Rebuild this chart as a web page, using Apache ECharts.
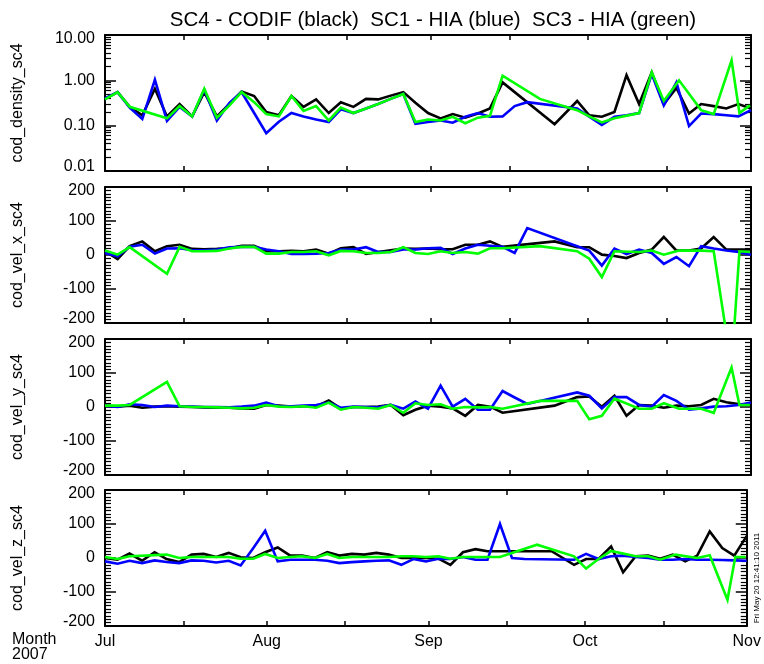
<!DOCTYPE html>
<html>
<head>
<meta charset="utf-8">
<script src="https://cdn.jsdelivr.net/npm/echarts@6/dist/echarts.min.js"></script>
<style>
  html, body { margin: 0; padding: 0; background: #ffffff; }
  #chart { width: 764px; height: 664px; }
</style>
</head>
<body>
<div id="chart"></div>
<script>
// ---- Axis text ----
const titleText = 'SC4 - CODIF (black)  SC1 - HIA (blue)  SC3 - HIA (green)';
const monthLabels = ['Jul', 'Aug', 'Sep', 'Oct', 'Nov'];
const monthStarts = [0, 31, 62, 92, 123];          // days since 2007-07-01
const halfMonthTicks = [0, 15, 31, 46, 62, 77, 92, 107, 123];
const panelNames = ['cod_density_sc4', 'cod_vel_x_sc4', 'cod_vel_y_sc4', 'cod_vel_z_sc4'];
const densityLabels = [0.01, 0.1, 1, 10];
const densityMinorTicks = [0.02, 0.03, 0.04, 0.05, 0.06, 0.07, 0.08, 0.09,
                           0.2, 0.3, 0.4, 0.5, 0.6, 0.7, 0.8, 0.9,
                           2, 3, 4, 5, 6, 7, 8, 9];

// ---- SC4 CODIF (black) ----
const codifDays = [0.0, 2.4, 4.7, 7.1, 9.5, 11.8, 14.2, 16.6, 18.9, 21.3, 23.7, 26.0, 28.4, 30.7, 33.1, 35.5,
  37.8, 40.2, 42.6, 44.9, 47.3, 49.7, 52.0, 54.4, 56.8, 59.1, 61.5, 63.9, 66.2, 68.6, 71.0, 73.3, 75.7,
  85.6, 89.9, 92.2, 94.6, 97.0, 99.3, 101.7, 104.1, 106.4, 108.8, 111.2, 113.5, 115.9, 118.3, 120.6, 123.0];
const codifDensity = [0.39, 0.55, 0.26, 0.17, 0.65, 0.16, 0.30, 0.16, 0.55, 0.16, 0.30, 0.57, 0.45, 0.20, 0.17, 0.45,
  0.26, 0.38, 0.19, 0.33, 0.26, 0.39, 0.38, 0.46, 0.55, 0.32, 0.19, 0.145, 0.18, 0.15, 0.185, 0.24, 0.90,
  0.108, 0.35, 0.17, 0.157, 0.20, 1.30, 0.30, 1.5, 0.30, 0.68, 0.185, 0.30, 0.27, 0.24, 0.30, 0.24];
const codifVx = [11, -12, 26, 40, 11, 26, 30, 18, 17, 18, 20, 27, 27, 11, 11, 12,
  11, 16, 4, 20, 23, 3, 9, 14, 19, 18, 19, 17, 17, 30, 30, 40, 24,
  40, 23, 23, 1, -3, -9, 6, 16, 53, 13, 13, 19, 53, 16, 16, 16];
const codifVy = [4, 1, 4, -2, 1, 2, 1, 0, -1, -2, -2, -4, -5, 6, 4, 1,
  2, 2, 19, -5, 0, 0, 1, 6, -24, -8, 4, 1, -4, -26, 6, 1, -17,
  4, 29, 31, 1, 33, -26, 6, 4, -2, 4, 2, 6, 24, 14, 9, 6];
const codifVz = [0, -5, 13, -8, 17, -3, -12, 10, 12, 3, 15, 2, 0, 17, 31, 7,
  7, 0, 17, 7, 12, 10, 15, 10, 0, 0, 0, -2, -20, 17, 26, 20, 20,
  20, -20, -3, -3, 34, -42, 5, 7, -2, 10, -10, 7, 78, 29, 7, 65];

// ---- SC1 HIA (blue) ----
const hia1Days = [0.0, 2.4, 4.7, 7.1, 9.5, 11.8, 14.2, 16.6, 18.9, 21.3, 23.7, 26.0, 28.4, 30.7, 33.1, 35.5,
  37.8, 40.2, 42.6, 44.9, 47.3, 49.7, 52.0, 54.4, 56.8, 59.1, 61.5, 63.9, 66.2, 68.6, 71.0, 73.3, 75.7,
  78.0, 80.4, 89.9, 92.2, 94.6, 97.0, 99.3, 101.7, 104.1, 106.4, 108.8, 111.2, 113.5, 115.9, 118.3, 120.6, 123.0];
const hia1Density = [0.40, 0.55, 0.25, 0.14, 1.03, 0.127, 0.26, 0.16, 0.62, 0.13, 0.32, 0.55, 0.19, 0.068, 0.122, 0.19,
  0.16, 0.137, 0.12, 0.23, 0.19, 0.24, 0.30, 0.39, 0.50, 0.11, 0.12, 0.13, 0.116, 0.157, 0.19, 0.157, 0.16,
  0.27, 0.33, 0.24, 0.157, 0.104, 0.157, 0.17, 0.19, 1.37, 0.28, 0.9, 0.098, 0.185, 0.18, 0.17, 0.16, 0.22];
const hia1Vx = [6, -4, 24, 30, 4, 19, 20, 14, 14, 16, 23, 24, 24, 16, 11, 3,
  3, 4, 6, 16, 16, 23, 9, 9, 16, 16, 20, 21, 3, 19, 30, 27, 24,
  6, 79, 26, 13, -31, 19, 3, 16, 6, -26, -6, -33, 26, 19, 13, 9, 1];
const hia1Vy = [4, 0, 8, 6, 0, 4, 2, 1, 0, 0, -1, 1, 4, 13, 2, 2,
  4, 6, 13, -2, 1, 0, -1, 6, -5, 16, -5, 63, 1, 24, -8, -8, 47,
  28, 9, 43, 33, -4, 29, 29, 6, 1, 35, 18, -8, -4, 1, 2, 6, 13];
const hia1Vz = [-10, -17, -8, -15, -7, -12, -15, -7, -8, -13, -8, -22, 29, 80, -10, -5,
  -5, -5, -8, -15, -12, -10, -8, -7, -20, -3, -10, -2, -3, 3, -5, -5, 100,
  0, -3, -5, 12, -3, 5, 7, 3, 0, -5, -5, -3, -5, -5, -6, -7, -8];

// ---- SC3 HIA (green) ----
const hia3Days = [0.0, 2.4, 4.7, 11.8, 14.2, 16.6, 18.9, 21.3, 23.7, 26.0, 28.4, 30.7, 33.1, 35.5,
  37.8, 40.2, 42.6, 44.9, 47.3, 49.7, 52.0, 54.4, 56.8, 59.1, 61.5, 63.9, 66.2, 68.6, 71.0, 73.3, 75.7,
  82.8, 89.9, 92.2, 94.6, 97.0, 101.7, 104.1, 106.4, 109.3, 113.5, 115.9, 119.3, 120.8, 122.8];
const hia3Density = [0.38, 0.55, 0.26, 0.145, 0.27, 0.16, 0.65, 0.15, 0.28, 0.55, 0.33, 0.18, 0.16, 0.45,
  0.21, 0.27, 0.13, 0.25, 0.19, 0.24, 0.30, 0.39, 0.50, 0.12, 0.137, 0.13, 0.157, 0.113, 0.15, 0.165, 1.27,
  0.39, 0.22, 0.16, 0.118, 0.145, 0.19, 1.5, 0.35, 1.0, 0.22, 0.18, 2.77, 0.19, 0.28];
const hia3Vx = [13, 1, 23, -55, 24, 11, 11, 12, 19, 24, 24, 4, 4, 9,
  9, 11, -1, 12, 11, 6, 6, 9, 23, 6, 3, 11, 6, 9, 4, 20, 20,
  26, 11, -11, -65, 11, 9, 13, 1, 13, 13, 11, -330, 11, 9];
const hia3Vy = [4, 4, 6, 74, 2, 0, 0, -1, -2, -4, -2, 6, 1, 0,
  2, -2, 13, -8, 0, -2, -5, 6, -17, 11, 6, 8, -5, 0, -1, 0, -5,
  18, 18, -36, -26, 25, -5, -5, 11, -5, -5, -17, 116, 6, 6];
const hia3Vz = [3, -3, 5, 10, 0, 3, 3, 3, 3, -2, -2, 12, 0, 3,
  5, 0, 12, 0, 3, 3, 3, 3, 5, 5, 3, 5, -2, 3, 3, 3, 3,
  39, 5, -31, -3, 21, 5, 5, -5, 10, 0, 8, -123, 3, 3];

// ---- Layout ----
const FONT = 'Liberation Sans, Arial, Helvetica, sans-serif';
const plotLeft = 105, plotRight = 13, panelHeight = 136;
const panelTops = [35, 187, 339, 490];

function pairs(days, vals) {
  return days.map((d, i) => [d, vals[i]]);
}

const grids = panelTops.map(t => ({ left: plotLeft, right: plotRight, top: t, height: panelHeight }));

const xAxes = [];
panelTops.forEach((t, p) => {
  const base = {
    gridIndex: p, type: 'value', min: 0, max: 123,
    axisLine: { show: true, onZero: false, lineStyle: { color: '#000', width: 2 } },
    axisTick: { show: true, inside: true, length: 5, customValues: halfMonthTicks, lineStyle: { color: '#000', width: 1.5 } },
    splitLine: { show: false }
  };
  xAxes.push(Object.assign({}, base, {
    position: 'bottom',
    axisLabel: {
      show: p === 3, customValues: monthStarts, margin: 8,
      color: '#000', fontFamily: FONT, fontSize: 16,
      formatter: v => monthLabels[monthStarts.indexOf(Math.round(v))]
    }
  }));
  xAxes.push(Object.assign({}, base, { position: 'top', axisLabel: { show: false } }));
});

// End labels sit half a line inside the frame; the short line box keeps that offset small
const tickLabelStyle = {
  show: true, margin: 10, color: '#000', fontFamily: FONT, fontSize: 16, lineHeight: 8,
  verticalAlignMinLabel: 'bottom', verticalAlignMaxLabel: 'top'
};
const nameStyle = { color: '#000', fontFamily: FONT, fontSize: 16 };

const yAxes = [];
const leftIndex = [];
// Density panel: log scale, labelled decades plus 2..9 minor ticks, both sides
leftIndex.push(yAxes.length);
yAxes.push({
  gridIndex: 0, type: 'log', min: 0.01, max: 10, position: 'left',
  name: panelNames[0], nameLocation: 'middle', nameGap: 79, nameRotate: 90,
  nameTextStyle: nameStyle,
  axisLine: { show: true, lineStyle: { color: '#000', width: 2 } },
  axisTick: { show: true, inside: true, length: 11, customValues: densityLabels, lineStyle: { color: '#000', width: 1.5 } },
  axisLabel: Object.assign({}, tickLabelStyle, { customValues: densityLabels, formatter: v => Number(v).toFixed(2) }),
  splitLine: { show: false }
});
yAxes.push({
  gridIndex: 0, type: 'log', min: 0.01, max: 10, position: 'left',
  axisLine: { show: false },
  axisTick: { show: true, inside: true, length: 6, customValues: densityMinorTicks, lineStyle: { color: '#000', width: 1.2 } },
  axisLabel: { show: false }, splitLine: { show: false }
});
yAxes.push({
  gridIndex: 0, type: 'log', min: 0.01, max: 10, position: 'right',
  axisLine: { show: true, lineStyle: { color: '#000', width: 2 } },
  axisTick: { show: true, inside: true, length: 11, customValues: densityLabels, lineStyle: { color: '#000', width: 1.5 } },
  axisLabel: { show: false }, splitLine: { show: false }
});
yAxes.push({
  gridIndex: 0, type: 'log', min: 0.01, max: 10, position: 'right',
  axisLine: { show: false },
  axisTick: { show: true, inside: true, length: 6, customValues: densityMinorTicks, lineStyle: { color: '#000', width: 1.2 } },
  axisLabel: { show: false }, splitLine: { show: false }
});
// Velocity panels: -200..200, major every 100, minor every 10
for (let p = 1; p < 4; p++) {
  const common = {
    gridIndex: p, type: 'value', min: -200, max: 200, interval: 100,
    axisLine: { show: true, onZero: false, lineStyle: { color: '#000', width: 2 } },
    axisTick: { show: true, inside: true, length: 11, lineStyle: { color: '#000', width: 1.5 } },
    minorTick: { show: true, splitNumber: 10, length: 6, lineStyle: { color: '#000', width: 1.2 } },
    splitLine: { show: false }, minorSplitLine: { show: false }
  };
  leftIndex.push(yAxes.length);
  yAxes.push(Object.assign({}, common, {
    position: 'left',
    name: panelNames[p], nameLocation: 'middle', nameGap: 79, nameRotate: 90,
    nameTextStyle: nameStyle,
    axisLabel: tickLabelStyle
  }));
  yAxes.push(Object.assign({}, common, { position: 'right', axisLabel: { show: false } }));
}

const instruments = [
  { color: '#000000', days: codifDays, vals: [codifDensity, codifVx, codifVy, codifVz] },
  { color: '#0000ff', days: hia1Days, vals: [hia1Density, hia1Vx, hia1Vy, hia1Vz] },
  { color: '#00ff00', days: hia3Days, vals: [hia3Density, hia3Vx, hia3Vy, hia3Vz] }
];

const series = [];
instruments.forEach((inst, k) => {
  for (let p = 0; p < 4; p++) {
    series.push({
      type: 'line', xAxisIndex: 2 * p, yAxisIndex: leftIndex[p],
      data: pairs(inst.days, inst.vals[p]),
      showSymbol: false, symbol: 'none', clip: true,
      color: inst.color,
      lineStyle: { color: inst.color, width: 2.6, join: 'miter' },
      z: 2 + k, animation: false
    });
  }
});

const chart = echarts.init(document.getElementById('chart'), null, { renderer: 'canvas' });
chart.setOption({
  backgroundColor: '#ffffff',
  animation: false,
  title: {
    text: titleText, left: 428, top: 5, textAlign: 'center',
    textStyle: { color: '#000', fontFamily: FONT, fontSize: 20.5, fontWeight: 'normal' }
  },
  grid: grids,
  xAxis: xAxes,
  yAxis: yAxes,
  series: series,
  graphic: [
    { type: 'text', left: 12, top: 632,
      style: { text: 'Month\n2007', fill: '#000', font: '16px ' + FONT, lineHeight: 15 } },
    { type: 'text', x: 757, y: 578, rotation: Math.PI / 2,
      style: { text: 'Fri May 20 12:41:10 2011', fill: '#000', font: '8px ' + FONT,
               align: 'center', verticalAlign: 'middle' } }
  ]
});
</script>
</body>
</html>
